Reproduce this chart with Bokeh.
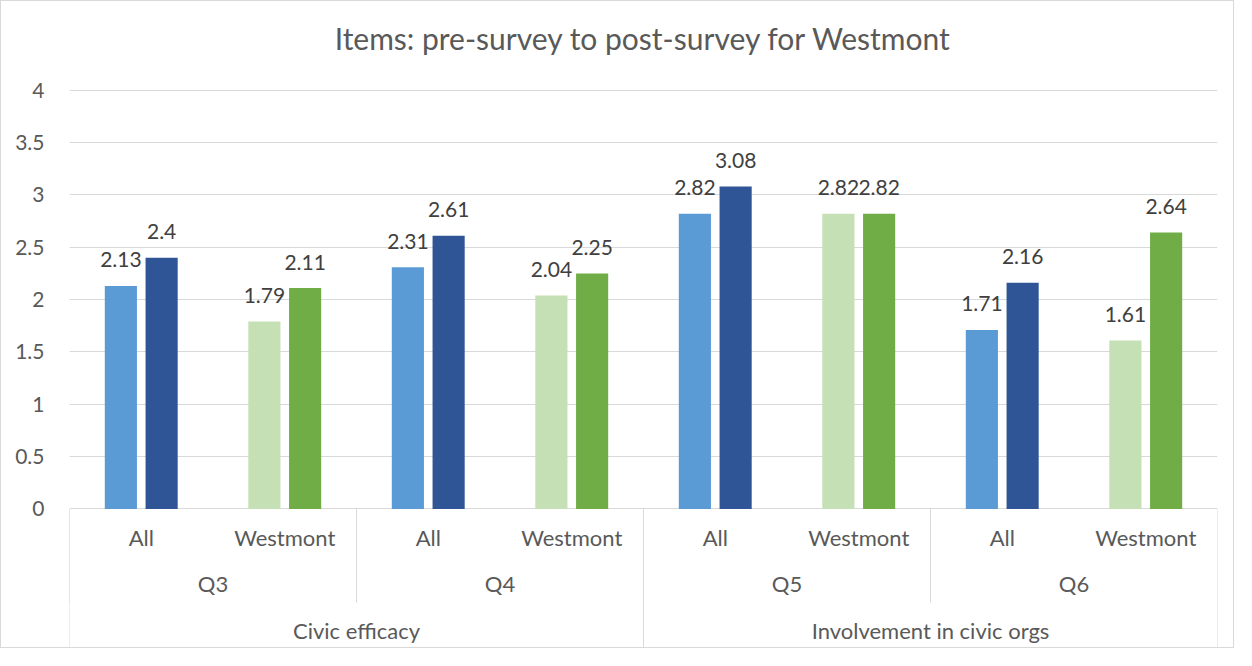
from bokeh.plotting import figure
from bokeh.models import FactorRange, ColumnDataSource, FixedTicker, NumeralTickFormatter, Range1d
from bokeh.transform import dodge
from bokeh.core.properties import value
from bokeh.embed import file_html
from bokeh.resources import INLINE

title = "Items: pre-survey to post-survey for Westmont"
constructs = ["Civic efficacy", "Involvement in civic orgs"]
questions = [["Q3", "Q4"], ["Q5", "Q6"]]
groups = ["All", "Westmont"]
pre = [2.13, 1.79, 2.31, 2.04, 2.82, 2.82, 1.71, 1.61]
post = [2.4, 2.11, 2.61, 2.25, 3.08, 2.82, 2.16, 2.64]
pre_colors = {"All": "#5B9BD5", "Westmont": "#C5E0B4"}
post_colors = {"All": "#2F5597", "Westmont": "#70AD47"}
y_ticks = [0, 0.5, 1, 1.5, 2, 2.5, 3, 3.5, 4]

FONT = "Lato"
GRID = "#d9d9d9"
TXT = "#595959"

factors = [(c, q, g) for c, qs in zip(constructs, questions) for q in qs for g in groups]
mids = [(c, q) for c, qs in zip(constructs, questions) for q in qs]

x_range = FactorRange(*factors, range_padding=0, factor_padding=0,
                      subgroup_padding=0, group_padding=0)
p = figure(width=1234, height=648, x_range=x_range, y_range=Range1d(-1.342, 4.217),
           output_backend="svg", toolbar_location=None,
           min_border_left=68, min_border_right=18, min_border_top=66, min_border_bottom=0)
p.styles = {"border": "1px solid #d9d9d9"}
p.outline_line_color = None
p.title.text = title
p.title.align = "center"
p.title.text_font = FONT
p.title.text_font_size = "30px"
p.title.text_font_style = "normal"
p.title.text_color = TXT
p.title.standoff = 24

p.xaxis.visible = False
p.xgrid.visible = False
p.yaxis.ticker = FixedTicker(ticks=y_ticks)
p.yaxis.formatter = NumeralTickFormatter(format="0.[0]")
p.yaxis.axis_line_color = None
p.yaxis.major_tick_line_color = None
p.yaxis.minor_tick_line_color = None
p.yaxis.major_tick_out = 0
p.yaxis.major_label_standoff = 25
p.yaxis.major_label_text_font = FONT
p.yaxis.major_label_text_font_size = "21px"
p.yaxis.major_label_text_color = TXT
p.ygrid.ticker = FixedTicker(ticks=y_ticks)
p.ygrid.grid_line_color = GRID
p.ygrid.grid_line_width = 1

src = ColumnDataSource(dict(
    f=factors,
    pre=pre, post=post,
    pre_lbl=[f"{v:g}" for v in pre],
    post_lbl=[f"{v:g}" for v in post],
    pre_col=[pre_colors[f[2]] for f in factors],
    post_col=[post_colors[f[2]] for f in factors],
    leaf=[f[2] for f in factors],
))

OFF = 0.142
W = 0.224
p.vbar(x=dodge("f", -OFF, range=x_range), top="pre", bottom=0, width=W, source=src,
       fill_color="pre_col", line_color=None)
p.vbar(x=dodge("f", OFF, range=x_range), top="post", bottom=0, width=W, source=src,
       fill_color="post_col", line_color=None)

p.text(x=dodge("f", -OFF, range=x_range), y="pre", text="pre_lbl", source=src,
       text_align="center", text_baseline="alphabetic", y_offset=-26,
       text_font=value(FONT), text_font_size="21px", text_color="#404040")
p.text(x=dodge("f", OFF, range=x_range), y="post", text="post_lbl", source=src,
       text_align="center", text_baseline="alphabetic", y_offset=-26,
       text_font=value(FONT), text_font_size="21px", text_color="#404040")

# category labels (three levels)
ROW1, ROW2, ROW3 = -0.272, -0.708, -1.157
p.text(x="f", y=ROW1, text="leaf", source=src, text_align="center", text_baseline="middle",
       text_font=value(FONT), text_font_size="22px", text_color=TXT)
msrc = ColumnDataSource(dict(m=mids, t=[m[1] for m in mids]))
p.text(x="m", y=ROW2, text="t", source=msrc, text_align="center", text_baseline="middle",
       text_font=value(FONT), text_font_size="22px", text_color=TXT)
csrc = ColumnDataSource(dict(c=constructs, t=constructs))
p.text(x="c", y=ROW3, text="t", source=csrc, text_align="center", text_baseline="middle",
       text_font=value(FONT), text_font_size="22px", text_color=TXT)

# separators
SHORT, LONG = -0.893, -1.342
first_of_mid = [(c, q, groups[0]) for c, qs in zip(constructs, questions) for q in qs]
ssrc = ColumnDataSource(dict(f=first_of_mid))
p.segment(x0=dodge("f", -0.5, range=x_range), y0=0, x1=dodge("f", -0.5, range=x_range),
          y1=SHORT, source=ssrc, line_color=GRID, line_width=1)
first_of_top = [(c, qs[0], groups[0]) for c, qs in zip(constructs, questions)]
lsrc = ColumnDataSource(dict(f=first_of_top))
p.segment(x0=dodge("f", -0.5, range=x_range), y0=0, x1=dodge("f", -0.5, range=x_range),
          y1=LONG, source=lsrc, line_color=GRID, line_width=1)
esrc = ColumnDataSource(dict(f=[factors[-1]]))
p.segment(x0=dodge("f", 0.5, range=x_range), y0=0, x1=dodge("f", 0.5, range=x_range),
          y1=LONG, source=esrc, line_color=GRID, line_width=1)

open("out.html", "w").write(file_html(p, INLINE))
